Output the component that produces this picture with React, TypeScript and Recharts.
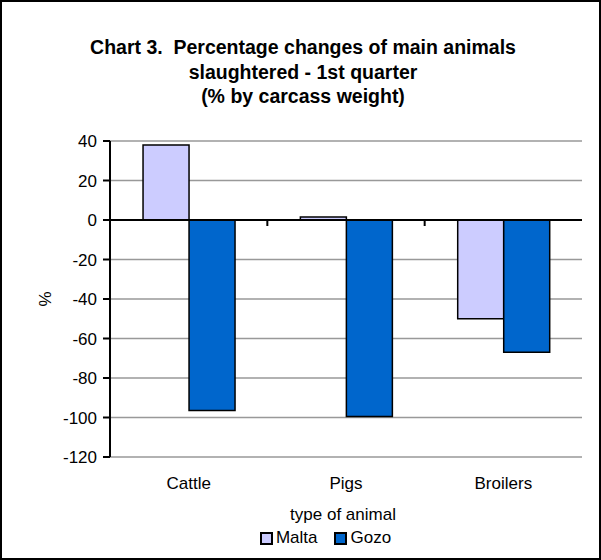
import { BarChart, Bar, XAxis, YAxis, CartesianGrid, ReferenceLine, Legend } from "recharts";

const animals = ["Cattle", "Pigs", "Broilers"];
const maltaChange = [38, 1.5, -50];
const gozoChange = [-96.5, -99.5, -67];
const yTicks = [40, 20, 0, -20, -40, -60, -80, -100, -120];

const data = animals.map((animal, i) => ({
  animal,
  Malta: maltaChange[i],
  Gozo: gozoChange[i],
}));

const FONT = "'Liberation Sans', Arial, sans-serif";
const MALTA = "#CCCCFF";
const GOZO = "#0066CC";

// zero line with the category tick marks hanging below it
const ZeroLine = (props: any) => {
  const { x1, y1, x2 } = props;
  const step = (x2 - x1) / animals.length;
  const marks = [];
  for (let k = 1; k < animals.length; k++) {
    const x = x1 + step * k;
    marks.push(<line key={k} x1={x} y1={y1} x2={x} y2={y1 + 6} stroke="#000" strokeWidth={2} />);
  }
  return (
    <g>
      <line x1={x1} y1={y1} x2={x2} y2={y1} stroke="#000" strokeWidth={2} />
      {marks}
    </g>
  );
};

const CategoryTick = (props: any) => {
  const { x, y, payload } = props;
  return (
    <text x={x} y={y + 26} textAnchor="middle" dominantBaseline="central" fontSize={17} fill="#000" fontFamily={FONT}>
      {payload.value}
    </text>
  );
};

const LegendContent = () => (
  <div style={{ display: "flex", justifyContent: "center", alignItems: "center", fontFamily: FONT, fontSize: 17, color: "#000" }}>
    {[
      { name: "Malta", color: MALTA },
      { name: "Gozo", color: GOZO },
    ].map((s, i) => (
      <span key={s.name} style={{ display: "inline-flex", alignItems: "center", marginLeft: i ? 17 : 0 }}>
        <span style={{ width: 9, height: 9, background: s.color, border: "2px solid #000", marginRight: 3 }} />
        {s.name}
      </span>
    ))}
  </div>
);

export default function App() {
  return (
    <div style={{ position: "absolute", left: 0, top: 0, width: 601, height: 560, background: "#fff", fontFamily: FONT }}>
      <div
        style={{
          position: "absolute",
          left: 0,
          top: 35,
          width: 606,
          textAlign: "center",
          fontWeight: "bold",
          fontSize: 19.5,
          lineHeight: "24.5px",
          whiteSpace: "pre",
          color: "#000",
        }}
      >
        {"Chart 3.  Percentage changes of main animals\nslaughtered - 1st quarter\n(% by carcass weight)"}
      </div>
      <BarChart
        width={601}
        height={560}
        data={data}
        margin={{ top: 141, right: 19, left: 0, bottom: 43 }}
        barCategoryGap="21%"
        barGap={0}
      >
        <CartesianGrid vertical={false} stroke="#999" strokeWidth={1.5} />
        <XAxis
          dataKey="animal"
          height={60}
          axisLine={false}
          tickLine={false}
          tickSize={0}
          tickMargin={0}
          tick={<CategoryTick />}
          label={{
            content: ({ viewBox }: any) => (
              <text
                x={viewBox.x + viewBox.width / 2 - 3}
                y={viewBox.y + 57}
                textAnchor="middle"
                dominantBaseline="central"
                fontSize={17}
                fontFamily={FONT}
                fill="#000"
              >
                type of animal
              </text>
            ),
          }}
        />
        <YAxis
          width={110}
          domain={[-120, 40]}
          ticks={yTicks}
          interval={0}
          axisLine={{ stroke: "#000", strokeWidth: 2 }}
          tickLine={{ stroke: "#000", strokeWidth: 2 }}
          tickSize={7}
          tickMargin={6}
          tick={{ fill: "#000", fontSize: 17, fontFamily: FONT }}
          label={{
            content: ({ viewBox }: any) => {
              const cx = 45;
              const cy = viewBox.y + viewBox.height / 2;
              return (
                <text
                  x={cx}
                  y={cy}
                  transform={`rotate(-90 ${cx} ${cy})`}
                  textAnchor="middle"
                  dominantBaseline="central"
                  fontSize={17}
                  fontFamily={FONT}
                  fill="#000"
                >
                  %
                </text>
              );
            },
          }}
        />
        <Bar dataKey="Malta" fill={MALTA} stroke="#000" strokeWidth={1.5} isAnimationActive={false} />
        <Bar dataKey="Gozo" fill={GOZO} stroke="#000" strokeWidth={1.5} isAnimationActive={false} />
        <ReferenceLine y={0} shape={<ZeroLine />} ifOverflow="visible" />
        <Legend
          layout="horizontal"
          verticalAlign="middle"
          align="center"
          content={<LegendContent />}
          wrapperStyle={{ top: 528, left: 25, width: 601, height: 22 }}
        />
      </BarChart>
      <div
        style={{
          position: "absolute",
          left: 0,
          top: 0,
          width: 601,
          height: 560,
          boxSizing: "border-box",
          border: "2px solid #000",
          pointerEvents: "none",
        }}
      />
    </div>
  );
}
